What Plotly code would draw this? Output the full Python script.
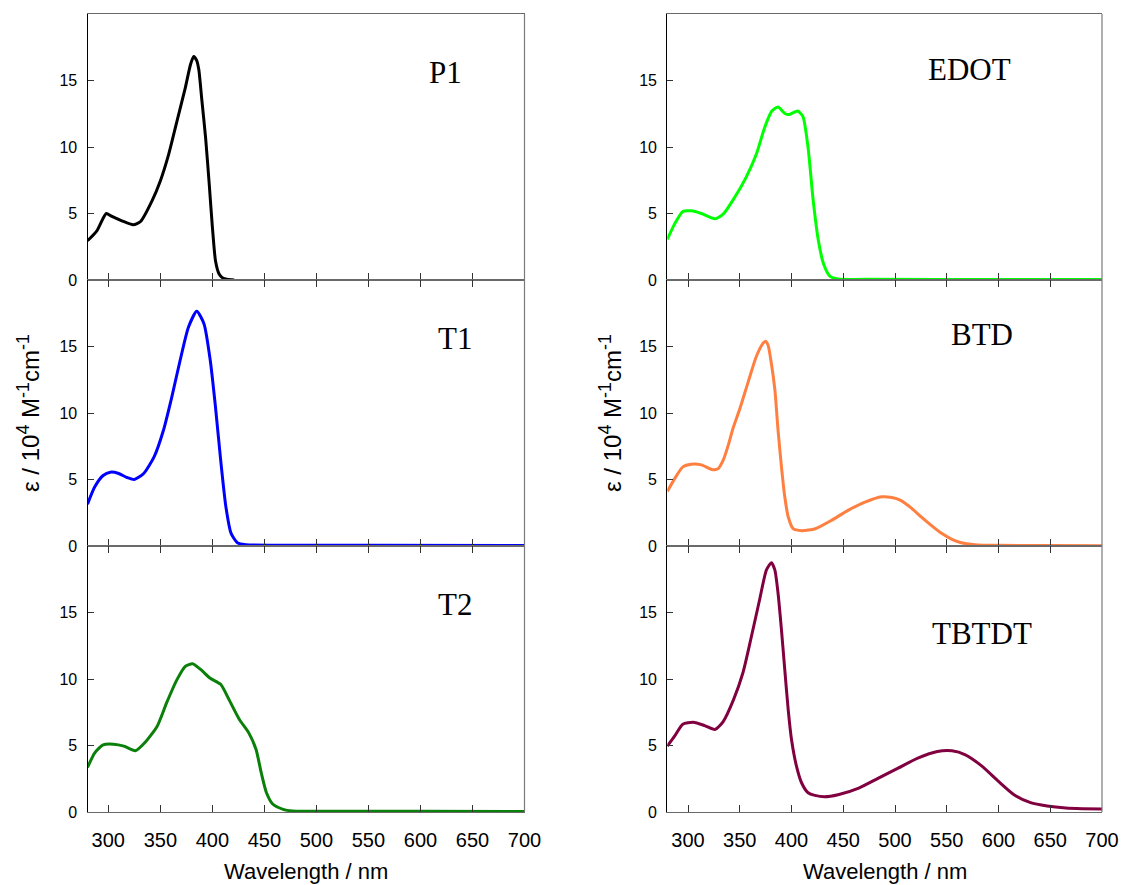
import plotly.graph_objects as go

# ---------------- data (wavelength nm, epsilon / 1e4 M^-1 cm^-1) ----------------
wl_P1 = [280, 289, 298, 303, 313, 324, 331, 342, 350, 358, 366, 374, 379, 382, 385, 387, 390, 393.5, 397, 400, 403, 406.5, 410, 414, 421]
eps_P1 = [2.95, 3.7, 5.0, 4.8, 4.45, 4.15, 4.4, 5.95, 7.45, 9.45, 11.95, 14.45, 16.2, 16.8, 16.5, 15.8, 13.45, 10.7, 7.2, 4.0, 1.45, 0.45, 0.15, 0.05, 0.0]

wl_T1 = [280, 287, 295, 302, 310, 318, 325, 334, 344, 353, 361, 369, 377, 385, 392, 398, 403, 408, 413, 418, 424, 432, 460, 550, 700]
eps_T1 = [3.15, 4.45, 5.3, 5.55, 5.45, 5.15, 5.0, 5.45, 6.7, 8.7, 11.2, 13.95, 16.45, 17.65, 16.7, 13.95, 10.45, 6.45, 2.95, 0.95, 0.25, 0.1, 0.06, 0.05, 0.04]

wl_T2 = [280, 287, 295, 305, 315, 326, 335, 347, 356, 366, 374, 381, 389, 398, 408, 416, 426, 435, 442, 447, 452, 458, 468, 477, 520, 600, 700]
eps_T2 = [3.35, 4.45, 5.05, 5.1, 4.95, 4.6, 5.2, 6.45, 8.2, 9.95, 10.95, 11.15, 10.7, 10.05, 9.6, 8.45, 6.95, 5.95, 4.7, 2.95, 1.45, 0.6, 0.2, 0.08, 0.05, 0.05, 0.04]

wl_EDOT = [280, 287, 295, 303, 313, 326, 334, 345, 356, 366, 374, 381, 387, 394, 398, 406, 411, 416, 421, 426, 431, 437, 445, 480, 600, 700]
eps_EDOT = [3.05, 4.2, 5.15, 5.2, 5.0, 4.6, 4.95, 6.2, 7.7, 9.45, 11.45, 12.7, 13.0, 12.5, 12.45, 12.7, 12.3, 9.95, 5.95, 2.95, 1.2, 0.3, 0.08, 0.05, 0.04, 0.03]

wl_BTD = [280, 287, 295, 303, 313, 323, 329, 334, 339, 343.5, 350, 358, 366, 372.6, 375, 377.4, 380.6, 384, 387, 390.3, 393.5, 396.8, 401.6, 410, 423, 439, 455, 471, 487, 497, 505, 515, 525, 535, 545, 555, 565, 580, 600, 650, 700]
eps_BTD = [4.1, 5.05, 5.95, 6.15, 6.1, 5.75, 5.8, 6.45, 7.6, 8.85, 10.3, 12.3, 14.25, 15.25, 15.4, 15.1, 13.7, 11.7, 8.7, 5.95, 3.7, 2.2, 1.3, 1.15, 1.3, 1.95, 2.7, 3.3, 3.7, 3.65, 3.45, 2.9, 2.2, 1.55, 0.95, 0.5, 0.22, 0.08, 0.05, 0.03, 0.02]

wl_TBTDT = [280, 287, 295, 305, 316, 326, 334, 344, 353, 361, 369, 375.8, 380.6, 383.9, 387, 390.3, 393.5, 396.8, 400, 404.8, 409.7, 416, 422.6, 432, 445, 465, 484, 503, 522, 541, 555, 568, 584, 600, 615, 631, 647, 665, 681, 700]
eps_TBTDT = [4.95, 5.7, 6.6, 6.75, 6.5, 6.2, 6.8, 8.45, 10.45, 13.1, 15.9, 18.2, 18.75, 18.2, 16.45, 13.7, 10.7, 7.7, 5.45, 3.45, 2.2, 1.45, 1.25, 1.15, 1.3, 1.8, 2.55, 3.3, 4.05, 4.55, 4.6, 4.3, 3.45, 2.3, 1.3, 0.7, 0.45, 0.3, 0.25, 0.22]

names = ["P1", "T1", "T2", "EDOT", "BTD", "TBTDT"]
wls = [wl_P1, wl_T1, wl_T2, wl_EDOT, wl_BTD, wl_TBTDT]
epss = [eps_P1, eps_T1, eps_T2, eps_EDOT, eps_BTD, eps_TBTDT]
colors = ["#000000", "#0000ff", "#0a800a", "#00ff00", "#ff7f40", "#800040"]

x_ticks = [300, 350, 400, 450, 500, 550, 600, 650, 700]
y_ticks = [0, 5, 10, 15]

# label positions (data coords)
label_pos = [(624, 15.6), (633, 15.6), (633, 15.6), (572, 15.8), (584, 15.9), (584, 13.4)]

# ---------------- layout geometry ----------------
W, H = 1121, 885


def fx(px):
    return px / W


def fy(py):
    return (H - py) / H


col_px = [(87.5, 524.5), (667.3, 1102)]
row_px = [(14, 280), (280, 546), (546, 812)]
col_dom = [[fx(a), fx(b)] for (a, b) in col_px]
row_dom = [[fy(b), fy(t)] for (t, b) in row_px]

fig = go.Figure()
layout = dict(
    width=W, height=H,
    margin=dict(l=0, r=0, t=0, b=0, autoexpand=False),
    plot_bgcolor="white", paper_bgcolor="white",
    showlegend=False,
    font=dict(family="Liberation Sans, Arial, sans-serif", color="#000000"),
)
shapes = []
annotations = []

for i in range(6):
    col = i // 3
    row = i % 3
    n = i + 1
    xs = "x" if n == 1 else f"x{n}"
    ys = "y" if n == 1 else f"y{n}"
    fig.add_trace(go.Scatter(
        x=wls[i], y=epss[i], mode="lines",
        line=dict(color=colors[i], width=3, shape="spline", smoothing=0.6),
        xaxis=xs, yaxis=ys, hoverinfo="skip",
    ))
    layout["xaxis" if n == 1 else f"xaxis{n}"] = dict(
        domain=col_dom[col], range=[280, 700], anchor=ys,
        tickvals=x_ticks, ticks="inside", ticklen=7, tickcolor="#333",
        showline=True, linecolor="#6a6a6a", linewidth=1.2,
        mirror=(True if row == 0 else "ticks"),
        showticklabels=(row == 2), tickfont=dict(size=20), ticklabelstandoff=10,
        showgrid=False, zeroline=False, fixedrange=True, automargin=False,
    )
    layout["yaxis" if n == 1 else f"yaxis{n}"] = dict(
        domain=row_dom[row], range=[0, 20], anchor=xs,
        tickvals=y_ticks, ticks="inside", ticklen=6, tickcolor="#333",
        showline=True, linecolor="#000000", linewidth=1.2,
        tickfont=dict(size=16), ticklabelstandoff=6,
        showgrid=False, zeroline=False, fixedrange=True, automargin=False,
    )
    shapes.append(dict(type="line", xref=f"{xs} domain", yref=f"{ys} domain",
                       x0=1, x1=1, y0=0, y1=1, line=dict(color="#7a7a7a", width=1.2)))
    annotations.append(dict(
        x=label_pos[i][0], y=label_pos[i][1], xref=xs, yref=ys,
        text=names[i], showarrow=False, xanchor="center", yanchor="middle",
        font=dict(family="Liberation Serif, Times New Roman, serif", size=31, color="#000000"),
    ))

sup = '<sup><span style="font-size:18px">{}</span></sup>'
ytitle = "ε / 10" + sup.format("4") + " M" + sup.format("-1") + "cm" + sup.format("-1")
for xc in [28, 610]:
    annotations.append(dict(
        x=fx(xc), y=fy(413), xref="paper", yref="paper", text=ytitle,
        textangle=-90, showarrow=False, xanchor="center", yanchor="middle",
        font=dict(size=24, color="#000000"),
    ))
for (a, b) in col_px:
    annotations.append(dict(
        x=fx((a + b) / 2), y=fy(871), xref="paper", yref="paper", text="Wavelength / nm",
        showarrow=False, xanchor="center", yanchor="middle",
        font=dict(size=22, color="#000000"),
    ))

layout["shapes"] = shapes
layout["annotations"] = annotations
fig.update_layout(**layout)
fig.write_html("out.html", config={"displayModeBar": False},
               post_script="document.body.style.margin='0px';")
